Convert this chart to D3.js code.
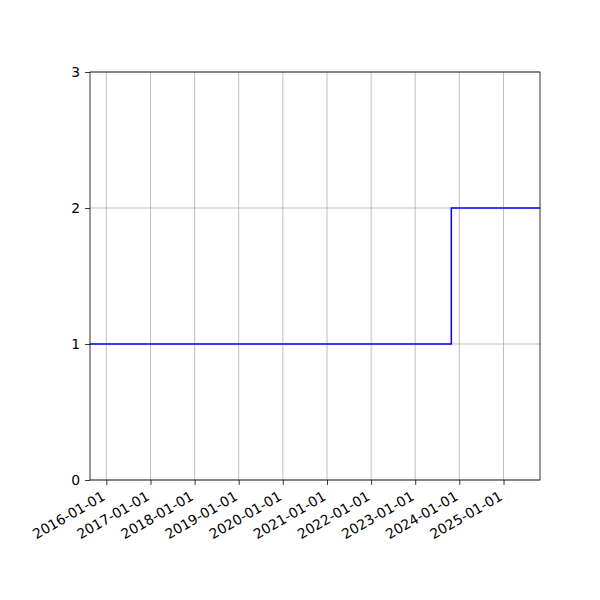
<!DOCTYPE html>
<html>
<head>
  <meta charset="UTF-8">
  <style>
    body { margin: 0; background: #fff; }
    text { font-family: "DejaVu Sans", sans-serif; font-size: 13.9px; fill: #000; }
  </style>
</head>
<body>
<div id="my_dataviz"></div>
<script src="https://d3js.org/d3.v7.min.js"></script>
<script>

// data
var dates = ["2015-08-19", "2023-10-27", "2025-10-30"];
var values = [1, 2, 2];
var yTicks = [0, 1, 2, 3];
var xTickYears = [2016, 2017, 2018, 2019, 2020, 2021, 2022, 2023, 2024, 2025];

var parse = d3.timeParse("%Y-%m-%d");
var fmt = d3.timeFormat("%Y-%m-%d");
var data = dates.map(function(d, i) { return {date: parse(d), value: values[i]}; });
var xTickDates = xTickYears.map(function(y) { return new Date(y, 0, 1); });

var W = 600, H = 600;
var margin = {top: 72, right: 60, bottom: 120, left: 90},
  width = W - margin.left - margin.right,
  height = H - margin.top - margin.bottom;

var svg = d3.select("#my_dataviz")
.append("svg")
  .attr("width", W)
  .attr("height", H)
.append("g")
  .attr("transform", "translate(" + margin.left + "," + margin.top + ")");

var x = d3.scaleTime()
  .domain(d3.extent(data, function(d) { return d.date; }))
  .range([0, width]);
var y = d3.scaleLinear().domain([0, 3]).range([height, 0]);

// grid
svg.append("g")
  .selectAll("line.vg")
  .data(xTickDates)
  .enter().append("line")
    .attr("x1", function(d) { return x(d); })
    .attr("x2", function(d) { return x(d); })
    .attr("y1", 0).attr("y2", height)
    .style("stroke", "#b0b0b0").style("stroke-width", 0.8);
svg.append("g")
  .selectAll("line.hg")
  .data(yTicks)
  .enter().append("line")
    .attr("x1", 0).attr("x2", width)
    .attr("y1", function(d) { return y(d); })
    .attr("y2", function(d) { return y(d); })
    .style("stroke", "#b0b0b0").style("stroke-width", 0.8);

// step line
var line = d3.line()
  .x(function(d) { return x(d.date); })
  .y(function(d) { return y(d.value); })
  .curve(d3.curveStepAfter);
svg.append("path")
  .datum(data)
  .attr("d", line)
  .style("fill", "none")
  .style("stroke", "#0000ff")
  .style("stroke-width", 1.5);

// axes
var xAxis = svg.append("g")
  .attr("transform", "translate(0," + height + ")")
  .call(d3.axisBottom(x).tickValues(xTickDates).tickFormat(fmt).tickSize(4.9).tickSizeOuter(0));
xAxis.select(".domain").remove();
xAxis.selectAll("line").style("stroke", "#000").style("stroke-width", 0.8);
xAxis.selectAll("text")
  .attr("y", 0).attr("dy", null)
  .style("text-anchor", "end")
  .style("font-size", "13.9px")
  .style("font-family", "DejaVu Sans")
  .attr("transform", "translate(1,22) rotate(-30)")
  .attr("dy", "-3.3px");

var yAxis = svg.append("g")
  .call(d3.axisLeft(y).tickValues(yTicks).tickFormat(d3.format("d")).tickSize(4.9).tickSizeOuter(0).tickPadding(4.9));
yAxis.select(".domain").remove();
yAxis.selectAll("line").style("stroke", "#000").style("stroke-width", 0.8);
yAxis.selectAll("text")
  .style("font-size", "13.9px")
  .style("font-family", "DejaVu Sans");

// frame
svg.append("rect")
  .attr("width", width).attr("height", height)
  .style("fill", "none").style("stroke", "#000").style("stroke-width", 0.8);

</script>
</body>
</html>
